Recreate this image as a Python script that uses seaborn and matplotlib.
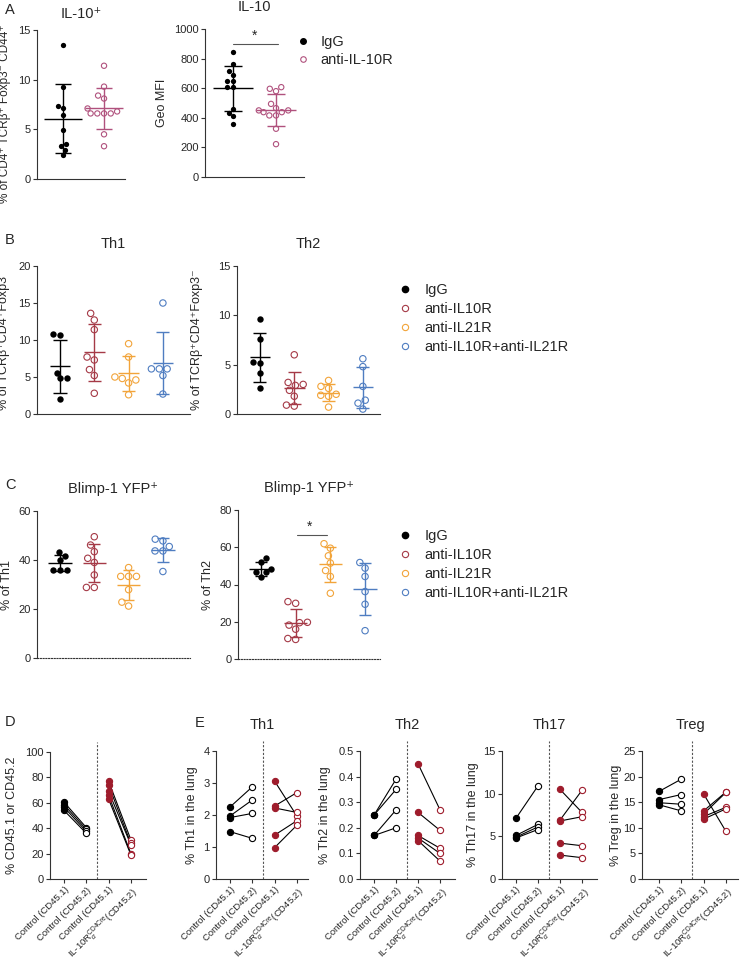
import numpy as np
import pandas as pd
import matplotlib
matplotlib.use("Agg")
import matplotlib.pyplot as plt
from matplotlib.lines import Line2D
from matplotlib.collections import PathCollection
from matplotlib.ticker import FormatStrFormatter
import seaborn as sns

sns.set_style("ticks")
plt.rcParams['font.family'] = ['Liberation Sans', 'DejaVu Sans']
plt.rcParams['mathtext.fontset'] = 'custom'
plt.rcParams['mathtext.rm'] = 'Liberation Sans'
plt.rcParams['mathtext.it'] = 'Liberation Sans:italic'
plt.rcParams['mathtext.bf'] = 'Liberation Sans:bold'

# ---- values ----
# A: IL-10 after anti-IL-10R
a_groups = ["IgG", "anti-IL-10R"]
a_pct = [[13.5, 9.3, 7.3, 7.1, 6.4, 4.9, 3.5, 3.3, 2.9, 2.4],
         [11.4, 9.3, 8.4, 8.1, 7.1, 6.8, 6.6, 6.6, 6.6, 6.6, 4.5, 3.3]]
a_mfi = [[843, 764, 717, 690, 650, 650, 611, 611, 461, 431, 409, 357],
         [607, 596, 580, 494, 465, 450, 450, 438, 438, 416, 416, 326, 222]]

# B / C: four treatment groups
bc_groups = ["IgG", "anti-IL10R", "anti-IL21R", "anti-IL10R+anti-IL21R"]
b_th1 = [[10.8, 10.7, 5.6, 4.8, 4.8, 2.0],
         [13.6, 12.7, 11.4, 7.7, 7.3, 6.0, 5.2, 2.8],
         [9.5, 7.7, 5.0, 4.6, 4.8, 4.2, 2.6],
         [15.0, 6.1, 6.1, 6.1, 5.2, 2.7]]
b_th2 = [[9.6, 7.6, 5.3, 5.2, 4.2, 2.6],
         [6.0, 3.2, 3.0, 2.9, 2.4, 1.8, 0.8, 0.9],
         [3.4, 2.8, 2.6, 2.0, 1.9, 1.8, 0.7],
         [5.6, 4.8, 2.8, 1.4, 1.1, 0.5]]
c_th1 = [[43.3, 41.8, 40.0, 35.9, 35.9, 35.9],
         [49.5, 46.1, 43.4, 40.7, 39.0, 33.9, 28.8, 28.8],
         [36.9, 33.3, 33.3, 33.3, 27.9, 21.2, 22.8],
         [48.5, 47.8, 45.5, 43.7, 43.7, 35.3]]
c_th2 = [[54.0, 52.0, 48.5, 46.5, 46.5, 44.0],
         [30.8, 29.9, 19.5, 19.7, 18.2, 16.0, 11.0, 10.5],
         [61.9, 59.5, 55.4, 51.5, 47.5, 44.3, 35.3],
         [51.8, 48.8, 44.3, 36.2, 29.4, 15.2]]

# D / E: paired CD45.1 vs CD45.2 in mixed chimeras
pair_ticks = ["Control (CD45.1)", "Control (CD45.2)", "Control (CD45.1)",
              r"IL-10R$_{\alpha}^{\rm CD4Cre}$(CD45.2)"]
d_ctrl = ([60.5, 58.5, 56.5, 54.0], [40.5, 39.0, 37.5, 36.0])
d_ko = ([77.0, 74.0, 69.0, 66.0, 63.0], [31.0, 28.0, 27.0, 20.0, 19.0])
e_th1_ctrl = ([2.25, 1.97, 1.92, 1.48], [2.88, 2.47, 2.05, 1.27])
e_th1_ko = ([3.06, 2.28, 2.22, 1.37, 0.98], [1.97, 2.70, 2.08, 1.82, 1.68])
e_th2_ctrl = ([0.25, 0.25, 0.17, 0.17], [0.39, 0.35, 0.27, 0.20])
e_th2_ko = ([0.45, 0.26, 0.17, 0.16, 0.15], [0.27, 0.19, 0.12, 0.10, 0.07])
e_th17_ctrl = ([7.1, 5.1, 4.9, 4.8], [10.9, 6.4, 6.1, 5.8])
e_th17_ko = ([10.5, 6.9, 6.8, 4.2, 2.8], [7.8, 10.4, 7.3, 3.9, 2.5])
e_treg_ctrl = ([17.1, 15.5, 14.9, 14.5], [19.5, 16.5, 14.6, 13.3])
e_treg_ko = ([16.6, 13.3, 12.7, 12.2, 11.7], [9.3, 17.0, 16.9, 14.0, 13.7])

a_colors = ["black", "#B0517D"]
bc_colors = ["black", "#A53A47", "#F2A43A", "#4F7DC1"]
ko_red = "#9E1C2C"
spine_c = "#333333"

W, H = 741, 961
fig = plt.figure(figsize=(W / 100, H / 100), dpi=100)


def box(x0, y0, x1, y1):
    return [x0 / W, 1 - y1 / H, (x1 - x0) / W, (y1 - y0) / H]


def new_points(ax, before):
    # point collections that a seaborn call just added; drop empty ones
    # (seaborn makes them for the categories a subset does not have)
    found = []
    for c in list(ax.collections):
        if isinstance(c, PathCollection) and c not in before:
            if len(c.get_offsets()) == 0:
                c.remove()
            else:
                found.append(c)
    return found


def style_axis(ax, top, step, ylabel, label_x, title, title_pad, label_y=0.5, label_fs=9):
    ax.set_ylim(0, top)
    ax.set_yticks(np.arange(0, top + step / 2, step))
    ax.set_ylabel(ylabel, fontsize=label_fs)
    ax.yaxis.set_label_coords(label_x, label_y)
    ax.set_title(title, fontsize=10.5, pad=title_pad)
    ax.tick_params(axis="y", labelsize=8, length=3, width=0.8, pad=1.5, color=spine_c)
    sns.despine(ax=ax)
    for s in ("left", "bottom"):
        ax.spines[s].set_color(spine_c)
        ax.spines[s].set_linewidth(0.8)


def dot_panel(rect, groups, values, colors, hollow, xlim, mean_w, cap_w, size):
    ax = fig.add_axes(rect)
    for i, vals in enumerate(values):
        df = pd.DataFrame({"grp": groups[i], "val": vals})
        before = list(ax.collections)
        sns.swarmplot(data=df, x="grp", y="val", order=groups, color=colors[i],
                      size=size, ax=ax, zorder=2, clip_on=False)
        for pts in new_points(ax, before):
            if hollow[i]:
                pts.set_facecolor("none")
                pts.set_edgecolor(colors[i])
                pts.set_linewidth(0.8)
        m, s = np.mean(vals), np.std(vals, ddof=1)
        ax.hlines(m, i - mean_w, i + mean_w, color=colors[i], lw=1, zorder=3)
        ax.vlines(i, m - s, m + s, color=colors[i], lw=1, zorder=3)
        ax.hlines([m - s, m + s], i - cap_w, i + cap_w, color=colors[i], lw=1, zorder=3)
    ax.set_xlim(xlim)
    ax.set_xticks([])
    ax.set_xlabel("")
    return ax


def pair_panel(rect, ctrl, ko, xlim):
    ax = fig.add_axes(rect)
    rows = []
    for n, (a, b) in enumerate(zip(*ctrl)):
        rows += [("c%d" % n, 0, a), ("c%d" % n, 1, b)]
    for n, (a, b) in enumerate(zip(*ko)):
        rows += [("k%d" % n, 2, a), ("k%d" % n, 3, b)]
    df = pd.DataFrame(rows, columns=["mouse", "pos", "val"])
    sns.lineplot(data=df, x="pos", y="val", units="mouse", estimator=None,
                 color="black", lw=0.8, ax=ax, zorder=2)
    for pos, col, is_open in [(0, "black", False), (1, "black", True),
                              (2, ko_red, False), (3, ko_red, True)]:
        before = list(ax.collections)
        sns.scatterplot(data=df[df.pos == pos], x="pos", y="val", color=col, s=20,
                        ax=ax, zorder=3, linewidth=0.8)
        for pts in new_points(ax, before):
            pts.set_edgecolor(col)
            if is_open:
                pts.set_facecolor("white")
    ax.axvline(1.5, ymin=0, ymax=1.08, ls=(0, (2, 1.5)), color="#555555",
               lw=0.8, clip_on=False)
    ax.set_xlim(xlim)
    ax.set_xticks(range(4))
    ax.set_xticklabels(pair_ticks, rotation=45, ha="right",
                       rotation_mode="anchor", fontsize=6.8)
    ax.tick_params(axis="x", length=3, width=0.8, pad=1.5, color=spine_c)
    ax.set_xlabel("")
    return ax


# ---- A ----
ax = dot_panel(box(37, 30, 125, 179), a_groups, a_pct, a_colors, [False, True],
               (-0.63, 1.51), 0.46, 0.2, 3.8)
style_axis(ax, 15, 5, "% of CD4⁺ TCRβ⁺ Foxp3⁻ CD44⁺", -0.295, "IL-10⁺", 8.6,
           label_y=0.44, label_fs=8.5)

ax = dot_panel(box(205, 29, 304, 177), a_groups, a_mfi, a_colors, [False, True],
               (-0.65, 1.65), 0.46, 0.2, 3.8)
style_axis(ax, 1000, 200, "Geo MFI", -0.37, "IL-10", 13)
ax.plot([0, 1.05], [899, 899], color="#555555", lw=0.8, clip_on=False)
ax.text(0.5, 905, "*", ha="center", va="bottom", fontsize=10)

handles = [Line2D([], [], ls="", marker="o", ms=4, color="black"),
           Line2D([], [], ls="", marker="o", ms=4, mfc="none", mec=a_colors[1], mew=0.8)]
fig.legend(handles, a_groups, loc="upper left", bbox_to_anchor=(296 / W, 1 - 35 / H),
           frameon=False, borderpad=0, borderaxespad=0, handlelength=1,
           handletextpad=0.7, labelspacing=0.3, fontsize=10.5)

# ---- B ----
hollow4 = [False, True, True, True]
ax = dot_panel(box(37, 266, 190, 414), bc_groups, b_th1, bc_colors, hollow4,
               (-0.67, 3.79), 0.3, 0.19, 4.6)
style_axis(ax, 20, 5, "% of TCRβ⁺CD4⁺Foxp3⁻", -0.176, "Th1", 13)

ax = dot_panel(box(237, 266, 380, 414), bc_groups, b_th2, bc_colors, hollow4,
               (-0.67, 3.5), 0.3, 0.19, 4.6)
style_axis(ax, 15, 5, "% of TCRβ⁺CD4⁺Foxp3⁻", -0.238, "Th2", 13)


def bc_legend(top_px):
    hs = [Line2D([], [], ls="", marker="o", ms=4.5, color="black")]
    hs += [Line2D([], [], ls="", marker="o", ms=4.5, mfc="none", mec=c, mew=0.8)
           for c in bc_colors[1:]]
    fig.legend(hs, bc_groups, loc="upper left", bbox_to_anchor=(398 / W, 1 - top_px / H),
               frameon=False, borderpad=0, borderaxespad=0, handlelength=1,
               handletextpad=0.8, labelspacing=0.35, fontsize=10.5)


bc_legend(283)

# ---- C ----
ax = dot_panel(box(37, 511, 190, 658), bc_groups, c_th1, bc_colors, hollow4,
               (-0.67, 3.79), 0.34, 0.17, 4.6)
style_axis(ax, 60, 20, "% of Th1", -0.157, "Blimp-1 YFP⁺", 13)
ax.spines["bottom"].set_linestyle((0, (1, 1.5)))

ax = dot_panel(box(238, 510, 380, 659), bc_groups, c_th2, bc_colors, hollow4,
               (-0.66, 3.43), 0.34, 0.17, 4.6)
style_axis(ax, 80, 20, "% of Th2", -0.169, "Blimp-1 YFP⁺", 13)
ax.spines["bottom"].set_linestyle((0, (1, 1.5)))
ax.plot([1.05, 1.9], [66.7, 66.7], color="#555555", lw=0.8, clip_on=False)
ax.text(1.4, 67.5, "*", ha="center", va="bottom", fontsize=10)

bc_legend(529)

# ---- D ----
ax = pair_panel(box(50, 752, 146, 879), d_ctrl, d_ko, (-0.63, 3.68))
style_axis(ax, 100, 20, "% CD45.1 or CD45.2", -0.333, "", 0)

# ---- E ----
e_sets = [
    (box(216, 751, 308, 879), e_th1_ctrl, e_th1_ko, (-0.63, 3.5), 4, 1, "% Th1 in the lung", -0.2, "Th1"),
    (box(360, 751, 455, 879), e_th2_ctrl, e_th2_ko, (-0.64, 3.68), 0.5, 0.1, "% Th2 in the lung", -0.305, "Th2"),
    (box(502, 751, 597, 879), e_th17_ctrl, e_th17_ko, (-0.63, 3.68), 15, 5, "% Th17 in the lung", -0.24, "Th17"),
    (box(642, 751, 738, 879), e_treg_ctrl, e_treg_ko, (-0.76, 3.54), 25, 5, "% Treg in the lung", -0.21, "Treg"),
]
for rect, ctrl, ko, xl, top, step, yl, lx, title in e_sets:
    ax = pair_panel(rect, ctrl, ko, xl)
    style_axis(ax, top, step, yl, lx, title, 16)
    if title == "Th2":
        ax.yaxis.set_major_formatter(FormatStrFormatter("%.1f"))

# panel letters
for letter, x, y in [("A", 5, 10), ("B", 5, 240), ("C", 5, 485), ("D", 5, 722), ("E", 195, 723)]:
    fig.text(x / W, 1 - y / H, letter, fontsize=10.5, va="center", ha="left")

fig.savefig("out.png", dpi=100)
